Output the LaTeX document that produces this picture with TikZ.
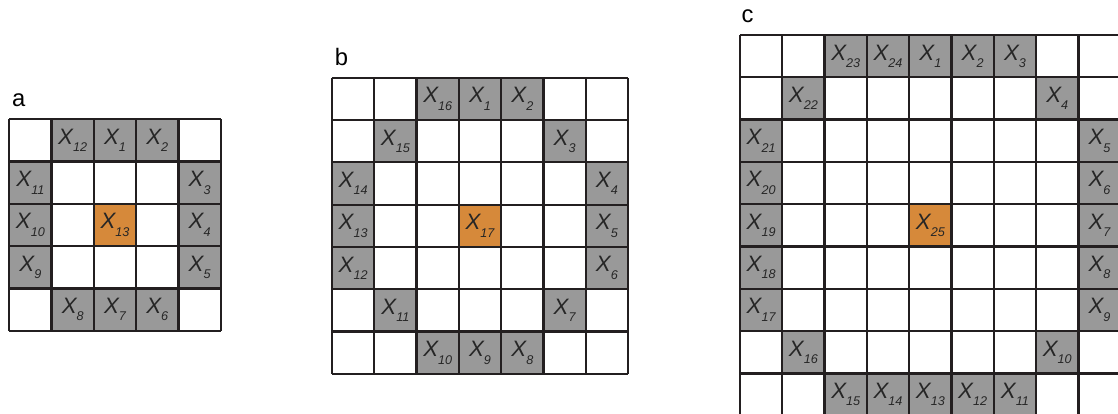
\documentclass[tikz,border=0pt]{standalone}
\usepackage{fontspec}
\setmainfont{Liberation Sans}
\definecolor{ringgray}{RGB}{153,153,153}
\definecolor{centreorange}{RGB}{214,137,58}
\definecolor{linedark}{RGB}{35,31,32}
\newcommand{\xsub}[1]{{\fontsize{15}{17}\selectfont\itshape X\raisebox{-5pt}{\fontsize{8.5}{10}\selectfont #1}}}

\begin{document}
\begin{tikzpicture}[x=1cm,y=1cm,
  ringcell/.style={fill=ringgray, minimum size=1cm, inner sep=0pt, text=black!85},
  centrecell/.style={fill=centreorange, minimum size=1cm, inner sep=0pt, text=black!85},
  gridline/.style={draw=linedark, line width=1.5pt},
  panellabel/.style={anchor=base west, inner sep=0pt, font=\fontsize{16}{19}\selectfont}]
\useasboundingbox (0,0) rectangle (26.43,-9.787);
\clip (0,0) rectangle (26.43,-9.787);
% a: 5x5
\begin{scope}[shift={(0.219,-2.819)}]
\foreach \c/\r/\k in {2/0/1,3/0/2,4/1/3,4/2/4,4/3/5,3/4/6,2/4/7,1/4/8,0/3/9,0/2/10,0/1/11,1/0/12}
  \node[ringcell] (a\k) at (\c+0.5,-\r-0.5) {\xsub{\k}};
\node[centrecell] (a13) at (2.5,-2.5) {\xsub{13}};
\draw[gridline] (0,0) grid (5,-5);
\node[panellabel] (lbla) at (0.06,0.3) {a};
\end{scope}
% b: 7x7
\begin{scope}[shift={(7.848,-1.838)}]
\foreach \c/\r/\k in {3/0/1,4/0/2,5/1/3,6/2/4,6/3/5,6/4/6,5/5/7,4/6/8,3/6/9,2/6/10,1/5/11,0/4/12,0/3/13,0/2/14,1/1/15,2/0/16}
  \node[ringcell] (b\k) at (\c+0.5,-\r-0.5) {\xsub{\k}};
\node[centrecell] (b17) at (3.5,-3.5) {\xsub{17}};
\draw[gridline] (0,0) grid (7,-7);
\node[panellabel] (lblb) at (0.06,0.3) {b};
\end{scope}
% c: 9x9
\begin{scope}[shift={(17.494,-0.827)}]
\foreach \c/\r/\k in {4/0/1,5/0/2,6/0/3,7/1/4,8/2/5,8/3/6,8/4/7,8/5/8,8/6/9,7/7/10,6/8/11,5/8/12,4/8/13,3/8/14,2/8/15,1/7/16,0/6/17,0/5/18,0/4/19,0/3/20,0/2/21,1/1/22,2/0/23,3/0/24}
  \node[ringcell] (c\k) at (\c+0.5,-\r-0.5) {\xsub{\k}};
\node[centrecell] (c25) at (4.5,-4.5) {\xsub{25}};
\draw[gridline] (0,0) grid (9,-9);
\node[panellabel] (lblc) at (0.03,0.3) {c};
\end{scope}
\end{tikzpicture}
\end{document}
